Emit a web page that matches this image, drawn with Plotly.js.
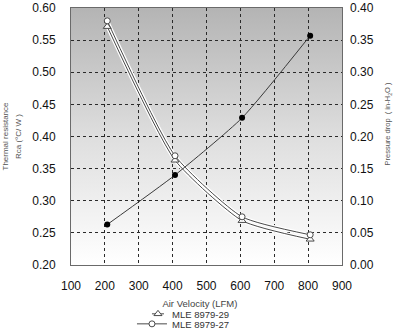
<!DOCTYPE html>
<html>
<head>
<meta charset="utf-8">
<script src="https://cdn.plot.ly/plotly-3.0.1.min.js"></script>
<style>
html,body{margin:0;padding:0;background:#fff;}
#chart{width:400px;height:332px;}
</style>
</head>
<body>
<div id="chart"></div>
<script>
// ---- data ----
var velocityLFM = [207, 407, 605, 806];
var rca_MLE8979_29 = [0.571, 0.363, 0.269, 0.240];
var rca_MLE8979_27 = [0.580, 0.370, 0.275, 0.247];
var pressureDrop = [0.063, 0.140, 0.229, 0.357];

var seriesNames = ['MLE 8979-29', 'MLE 8979-27'];
var xTitle = 'Air Velocity (LFM)';
var yTitle = ['Thermal resistance', 'Rca (°C/ W )'];
var y2Title = 'Pressure drop  ( in-H<sub>2</sub>O )';

var FONT = 'Liberation Sans, Arial, sans-serif';

function pad(n) { var s = ''; for (var i = 0; i < n; i++) s += '&nbsp;'; return s; }

var gradSvg = '<svg xmlns="http://www.w3.org/2000/svg" width="10" height="100" preserveAspectRatio="none">' +
  '<defs><linearGradient id="g" x1="0" y1="0" x2="0" y2="1">' +
  '<stop offset="0" stop-color="#b4b4b4"/><stop offset="0.5" stop-color="#dedede"/><stop offset="1" stop-color="#ffffff"/>' +
  '</linearGradient></defs><rect width="10" height="100" fill="url(#g)"/></svg>';
var gradSrc = 'data:image/svg+xml;charset=utf-8,' + encodeURIComponent(gradSvg);

var SMOOTH = 0.55;

var traces = [
  { x: velocityLFM, y: pressureDrop, yaxis: 'y2', type: 'scatter', mode: 'lines+markers',
    line: {color: '#3a3a3a', width: 1, shape: 'spline', smoothing: SMOOTH},
    marker: {symbol: 'circle', size: 6, color: '#000'}, showlegend: false, hoverinfo: 'skip' },
  { x: velocityLFM, y: rca_MLE8979_29, type: 'scatter', mode: 'lines',
    line: {color: '#ffffff', width: 3.5, shape: 'spline', smoothing: SMOOTH}, showlegend: false, hoverinfo: 'skip' },
  { x: velocityLFM, y: rca_MLE8979_27, type: 'scatter', mode: 'lines',
    line: {color: '#ffffff', width: 3.5, shape: 'spline', smoothing: SMOOTH}, showlegend: false, hoverinfo: 'skip' },
  { x: velocityLFM, y: rca_MLE8979_29, name: seriesNames[0], type: 'scatter', mode: 'lines+markers',
    line: {color: '#4a4a4a', width: 1, shape: 'spline', smoothing: SMOOTH},
    marker: {symbol: 'triangle-up', size: 7, color: '#fff', line: {color: '#4a4a4a', width: 1}},
    legend: 'legend' },
  { x: velocityLFM, y: rca_MLE8979_27, name: seriesNames[1], type: 'scatter', mode: 'lines+markers',
    line: {color: '#4a4a4a', width: 1, shape: 'spline', smoothing: SMOOTH},
    marker: {symbol: 'circle', size: 6, color: '#fff', line: {color: '#4a4a4a', width: 1}},
    legend: 'legend2' }
];

var legendCommon = {
  bgcolor: 'rgba(0,0,0,0)', borderwidth: 0, itemwidth: 30,
  font: {family: FONT, size: 9.5, color: '#333'},
  xanchor: 'left', yanchor: 'middle', x: 0.225, xref: 'paper', yref: 'paper',
  itemclick: false, itemdoubleclick: false
};

var layout = {
  width: 400, height: 332,
  margin: {l: 71, r: 58, t: 8, b: 67, pad: 0, autoexpand: false},
  paper_bgcolor: '#ffffff',
  plot_bgcolor: 'rgba(0,0,0,0)',
  font: {family: FONT, color: '#222'},
  showlegend: true,
  legend: Object.assign({}, legendCommon, {y: -0.19}),
  legend2: Object.assign({}, legendCommon, {y: -0.229}),
  images: [{source: gradSrc, xref: 'paper', yref: 'paper', x: 0, y: 1, sizex: 1, sizey: 1,
            sizing: 'stretch', xanchor: 'left', yanchor: 'top', layer: 'below'}],
  xaxis: {
    range: [100, 900], dtick: 100, tick0: 100, ticks: '', ticklabelstandoff: 10,
    tickfont: {family: FONT, size: 12, color: '#111'},
    showgrid: true, gridcolor: '#2a2a2a', griddash: 'dot', gridwidth: 1,
    showline: true, linecolor: '#6a6a6a', linewidth: 1, mirror: true, zeroline: false,
    title: {text: xTitle + pad(5), font: {family: FONT, size: 9.5, color: '#444'}, standoff: 7},
    automargin: false
  },
  yaxis: {
    range: [0.20, 0.60], dtick: 0.05, tick0: 0.2, tickformat: '.2f', ticks: '', ticklabelstandoff: 12,
    tickfont: {family: FONT, size: 12, color: '#111'},
    showgrid: true, gridcolor: '#2a2a2a', griddash: 'dot', gridwidth: 1,
    showline: true, linecolor: '#6a6a6a', linewidth: 1, mirror: true, zeroline: false,
    title: {text: yTitle.map(function (t) { return '<span style="font-size:8px">' + t + '</span>'; }).join('<br>'),
            font: {family: FONT, size: 10, color: '#555'}, standoff: 8},
    automargin: false
  },
  yaxis2: {
    overlaying: 'y', side: 'right', range: [0, 0.40], dtick: 0.05, tick0: 0, tickformat: '.2f',
    ticks: '', ticklabelstandoff: 7,
    tickfont: {family: FONT, size: 12, color: '#111'},
    showgrid: false, showline: false, zeroline: false,
    title: {text: pad(12) + y2Title, font: {family: FONT, size: 7.5, color: '#555'}, standoff: 12},
    automargin: false
  }
};

Plotly.newPlot('chart', traces, layout, {staticPlot: true, displayModeBar: false}).then(function (gd) {
  // shorten legend sample lines to match the compact reference legend
  var items = gd.querySelectorAll('.legend .traces');
  items.forEach(function (it) {
    var lp = it.querySelector('.legendlines path');
    if (lp) lp.setAttribute('d', 'M20,0h12');
    var pts = it.querySelectorAll('.legendpoints path');
    pts.forEach(function (p) { p.setAttribute('transform', 'translate(26,0)'); });
  });
});
</script>
</body>
</html>
